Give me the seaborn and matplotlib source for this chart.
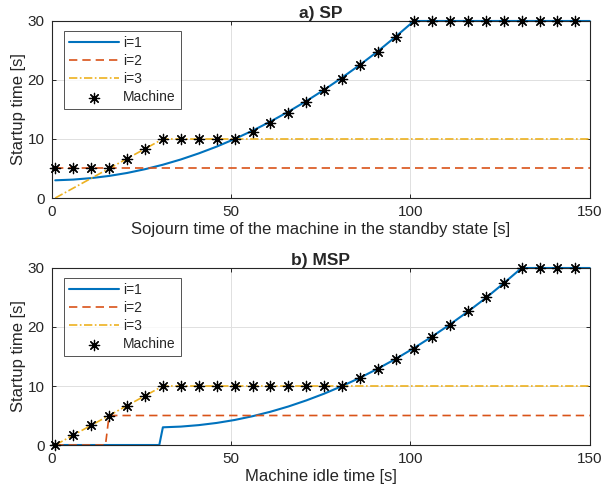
import numpy as np
import pandas as pd
import matplotlib
matplotlib.use("Agg")
import matplotlib.pyplot as plt
import seaborn as sns

# ---- data ----
# panel a) SP
sp_i1_x = [1, 6, 11, 16, 21, 26, 31, 36, 41, 46, 51, 56, 61, 66, 71, 76, 81, 86, 91, 96, 101, 150]
sp_i1_y = [3.0, 3.12, 3.37, 3.74, 4.24, 4.88, 5.64, 6.53, 7.56, 8.71, 10.0, 11.41, 12.96, 14.63,
           16.43, 18.36, 20.42, 22.6, 24.9, 27.4, 30.0, 30.0]
sp_i2_x = [1, 150]
sp_i2_y = [5, 5]
sp_i3_x = [1, 31, 150]
sp_i3_y = [0, 10, 10]
machine_x = [1, 6, 11, 16, 21, 26, 31, 36, 41, 46, 51, 56, 61, 66, 71, 76, 81, 86, 91, 96,
             101, 106, 111, 116, 121, 126, 131, 136, 141, 146]
sp_machine_y = [5, 5, 5, 5, 6.67, 8.33, 10, 10, 10, 10, 10, 11.2, 12.7, 14.4, 16.3, 18.25,
                20.2, 22.5, 24.8, 27.3, 30, 30, 30, 30, 30, 30, 30, 30, 30, 30]

# panel b) MSP
msp_i1_x = [1, 30, 31, 36, 41, 46, 51, 56, 61, 66, 71, 76, 81, 86, 91, 96, 101, 106, 111, 116,
            121, 126, 131, 150]
msp_i1_y = [0, 0, 3.0, 3.12, 3.37, 3.74, 4.24, 4.88, 5.64, 6.53, 7.56, 8.71, 10.0, 11.41, 12.96,
            14.63, 16.43, 18.36, 20.42, 22.6, 24.9, 27.4, 30.0, 30.0]
msp_i2_x = [1, 15, 16, 150]
msp_i2_y = [0, 0, 5, 5]
msp_i3_x = [1, 31, 150]
msp_i3_y = [0, 10, 10]
msp_machine_y = [0, 1.67, 3.33, 5, 6.67, 8.33, 10, 10, 10, 10, 10, 10, 10, 10, 10, 10, 10,
                 11.3, 12.8, 14.5, 16.35, 18.3, 20.4, 22.7, 25.1, 27.5, 30, 30, 30, 30]

titles = ["a) SP", "b) MSP"]
xlabels = ["Sojourn time of the machine in the standby state [s]", "Machine idle time [s]"]
ylabel = "Startup time [s]"
legend_labels = ["i=1", "i=2", "i=3", "Machine"]

# ---- style ----
sns.set_theme(style="white")
plt.rcParams["font.family"] = ["Liberation Sans", "DejaVu Sans"]
plt.rcParams["axes.edgecolor"] = "#262626"
plt.rcParams["axes.linewidth"] = 0.8

C1, C2, C3 = "#0072BD", "#D95319", "#EDB120"
ast = (8, 2, 0)

fig = plt.figure(figsize=(6.03, 4.95), dpi=100)
ax1 = fig.add_axes([0.0857, 0.600, 0.8923, 0.3576])
ax2 = fig.add_axes([0.0857, 0.101, 0.8923, 0.3576])

panels = [
    (ax1, sp_i1_x, sp_i1_y, sp_i2_x, sp_i2_y, sp_i3_x, sp_i3_y, sp_machine_y),
    (ax2, msp_i1_x, msp_i1_y, msp_i2_x, msp_i2_y, msp_i3_x, msp_i3_y, msp_machine_y),
]

for k, (ax, x1, y1, x2, y2, x3, y3, ym) in enumerate(panels):
    sns.lineplot(x=x1, y=y1, ax=ax, color=C1, lw=1.5, label=legend_labels[0],
                 sort=False, estimator=None, clip_on=False)
    sns.lineplot(x=x2, y=y2, ax=ax, color=C2, lw=1.2, linestyle=(0, (5, 3)),
                 label=legend_labels[1], sort=False, estimator=None)
    sns.lineplot(x=x3, y=y3, ax=ax, color=C3, lw=1.2, linestyle=(0, (5, 1.5, 1, 1.5)),
                 label=legend_labels[2], sort=False, estimator=None)
    sns.scatterplot(x=machine_x, y=ym, ax=ax, marker=ast, s=55, color="black",
                    linewidth=0.9, label=legend_labels[3], zorder=5, clip_on=False)
    ax.set_xlim(0, 150)
    ax.set_ylim(0, 30)
    ax.set_xticks([0, 50, 100, 150])
    ax.set_yticks([0, 10, 20, 30])
    ax.grid(True, color="#e0e0e0", lw=0.7)
    ax.set_axisbelow(True)
    ax.tick_params(direction="in", length=3, width=0.7, top=True, right=True,
                   labelsize=11, colors="#262626", pad=5, bottom=True, left=True)
    ax.set_xlabel(xlabels[k], fontsize=12, color="#262626", labelpad=2)
    ax.set_ylabel(ylabel, fontsize=12, color="#262626", labelpad=1)
    ax.set_title(titles[k], fontsize=12.5, fontweight="bold", pad=2)
    leg = ax.legend(loc="upper left", bbox_to_anchor=(0.023, 0.944), fontsize=10,
                    frameon=True, fancybox=False, edgecolor="#262626",
                    handlelength=3.6, handletextpad=0.3, labelspacing=0.3,
                    borderpad=0.35, borderaxespad=0)
    leg.get_frame().set_linewidth(0.7)
    for sp in ax.spines.values():
        sp.set_visible(True)

fig.savefig("out.png", dpi=100)
